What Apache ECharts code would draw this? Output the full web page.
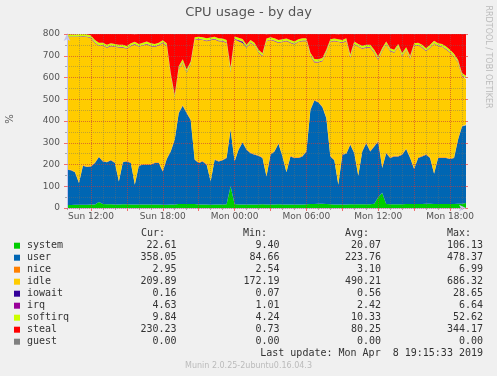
<!DOCTYPE html>
<html>
<head>
<meta charset="utf-8">
<title>CPU usage - by day</title>
<script src="https://cdn.jsdelivr.net/npm/echarts@6/dist/echarts.min.js"></script>
<style>
  html, body { margin: 0; padding: 0; background: #f0f0f0; }
  #cpuChart { width: 497px; height: 376px; }
</style>
</head>
<body>
<div id="cpuChart"></div>
<script>
// samples every 20 minutes, starting Sun 10:00 (hours counted from Sun 00:00)
var startHour = 10
var stepHours = 1 / 3
var sampleCount = 101

var tickHours = [12, 18, 24, 30, 36, 42]
var tickLabels = ['Sun 12:00', 'Sun 18:00', 'Mon 00:00', 'Mon 06:00', 'Mon 12:00', 'Mon 18:00']
var majorHours = [12, 15, 18, 21, 24, 27, 30, 33, 36, 39, 42]

var systemVals = [14,14,15,15,15,15,16,16,28,18, 17,17,16,16,17,17,16,16,16,16,
  16,16,16,16,15,15,16,16,18,18, 18,18,18,16,16,16,15,16,16,16,
  17,100,18,16,16,16,16,16,16,17, 16,16,16,17,16,16,16,16,16,16,
  17,18,18,19,19,18,17,16,16,16, 16,17,17,17,17,17,17,20,50,70,
  18,17,17,17,17,18,18,18,18,18, 20,19,18,18,18,18,18,18,19,20, 22.61]
var userVals = [162,159,149,100,179,173,175,191,206,196, 193,202,191,106,193,197,191,91,178,183,
  183,183,191,191,153,210,244,298,418,452, 418,387,204,191,198,183,107,206,198,203,
  213,260,196,252,285,252,236,229,224,213, 129,229,244,278,221,148,221,214,214,221,
  243,433,476,466,445,395,220,203,91,229, 233,274,235,131,243,281,243,263,256,114,
  234,213,220,220,228,253,212,161,212,219, 225,211,140,212,212,212,207,212,295,355, 358.05]
var niceVals = [3.0,3.1,2.9,3.0,3.2,3.0,2.9,3.1,3.3,3.0, 3.1,3.0,2.9,3.1,3.2,3.0,3.1,2.9,3.0,3.1,
  3.2,3.0,2.8,3.1,3.0,3.2,3.4,3.6,3.3,3.2, 3.1,3.0,2.9,3.0,3.1,3.0,2.8,3.0,3.1,3.0,
  2.9,4.2,3.0,3.1,3.0,2.9,3.0,3.2,3.1,3.0, 2.9,3.0,3.1,3.0,2.9,3.0,3.1,3.2,3.0,3.1,
  3.0,3.3,3.5,3.4,3.2,3.1,3.0,2.9,3.0,3.1, 3.0,3.2,3.1,3.0,3.2,3.1,3.0,3.2,3.6,3.4,
  3.1,3.2,3.0,3.1,3.2,3.0,3.1,3.2,3.0,3.1, 3.2,3.1,2.9,3.0,3.1,3.2,3.1,3.2,3.0,3.1, 2.95]
var idleVals = [607,610,619,668,589,595,587,549,507,530, 524,522,531,613,524,515,534,642,544,545,
  550,542,531,537,588,516,343,190,198,195, 183,252,547,565,555,565,647,550,550,544,
  526,259,558,496,455,466,504,499,471,465, 619,524,504,461,523,600,519,519,530,527,
  504,244,172,180,208,298,523,545,653,511, 515,397,497,590,469,436,474,428,371,534,
  497,488,474,501,450,452,453,562,514,497, 473,504,595,511,508,496,486,462,351,228, 209.89]
var iowaitVals = [0.4,0.5,0.3,0.4,0.6,0.5,0.4,0.5,0.6,0.4, 0.5,0.7,0.4,0.5,0.6,0.4,0.5,0.5,0.6,0.4,
  0.5,0.4,0.6,0.5,0.4,0.5,0.8,0.9,0.6,0.5, 0.7,0.6,0.4,0.5,0.4,0.6,0.5,0.4,0.5,0.4,
  0.6,0.9,0.5,2.4,4.8,0.7,0.5,0.4,0.6,0.5, 0.4,0.5,0.6,0.4,0.5,0.4,0.5,0.6,0.4,0.5,
  0.4,0.7,0.8,0.6,0.5,0.6,0.4,0.5,0.4,0.5, 0.4,0.6,0.5,0.4,0.6,0.5,0.6,0.4,0.9,0.7,
  0.5,0.4,0.6,0.5,0.7,0.5,0.6,0.4,0.5,0.4, 0.6,0.5,0.4,0.5,0.6,0.5,0.4,0.6,0.3,0.2, 0.16]
var irqVals = [2.3,2.4,2.2,2.3,2.5,2.4,2.3,2.4,2.8,2.4, 2.5,2.4,2.3,2.4,2.5,2.3,2.4,2.3,2.4,2.5,
  2.4,2.3,2.4,2.5,2.3,2.4,2.6,2.7,2.9,3.0, 2.8,2.6,2.4,2.3,2.4,2.3,2.2,2.3,2.4,2.3,
  2.4,3.6,2.3,2.4,2.5,2.4,2.3,2.4,2.3,2.4, 2.2,2.3,2.4,2.5,2.3,2.2,2.4,2.3,2.4,2.3,
  2.4,2.9,3.1,3.0,2.8,2.6,2.4,2.3,2.2,2.4, 2.3,2.5,2.4,2.3,2.4,2.5,2.4,2.5,3.0,2.8,
  2.4,2.3,2.4,2.3,2.4,2.5,2.4,2.3,2.4,2.4, 2.5,2.4,2.3,2.4,2.3,2.4,2.5,2.4,3.2,4.1, 4.63]
var softirqVals = [10.1,10.0,9.8,9.6,10.2,10.1,9.9,10.0,11.5,10.2, 10.0,10.3,10.1,9.7,10.2,10.4,10.1,9.5,10.2,10.1,
  10.0,10.2,10.3,10.0,9.8,10.3,10.9,9.8,11.2,11.8, 11.4,10.8,10.3,10.1,10.2,10.0,9.6,10.2,10.1,10.2,
  10.4,18.5,10.2,10.6,10.9,10.7,10.4,10.3,10.5,10.6, 9.8,10.3,10.4,10.8,10.2,9.9,10.3,10.2,10.3,10.2,
  10.4,11.8,12.2,12.0,11.5,10.8,10.2,10.1,9.7,10.3, 10.2,10.9,10.4,10.1,10.6,10.8,10.5,10.9,12.5,11.2,
  10.3,10.5,10.7,10.4,10.8,10.6,10.7,10.2,10.3,10.5, 10.6,10.4,10.1,10.3,10.4,10.6,10.8,11.1,10.6,10.2, 9.84]
var stealVals = [1,1,1,1,1,1,6,28,43,40, 50,43,46,49,50,55,43,35,46,40,
  35,43,46,40,28,43,181,280,150,119, 165,127,15,12,15,20,15,12,20,21,
  28,165,12,20,28,50,28,40,73,89, 20,15,20,28,24,20,28,35,24,20,
  20,89,118,119,112,73,24,20,24,28, 20,96,35,46,55,50,50,73,107,66,
  35,66,73,46,89,61,101,43,40,50, 66,50,31,43,46,58,73,92,119,181, 230.23]

// legend table
var legendNames = ['system', 'user', 'nice', 'idle', 'iowait', 'irq', 'softirq', 'steal', 'guest']
var legendColors = ['#00CC00', '#0066B3', '#FF8000', '#FFCC00', '#330099', '#990099', '#CCFF00', '#FF0000', '#808080']
var curVals = ['22.61', '358.05', '2.95', '209.89', '0.16', '4.63', '9.84', '230.23', '0.00']
var minVals = ['9.40', '84.66', '2.54', '172.19', '0.07', '1.01', '4.24', '0.73', '0.00']
var avgVals = ['20.07', '223.76', '3.10', '490.21', '0.56', '2.42', '10.33', '80.25', '0.00']
var maxVals = ['106.13', '478.37', '6.99', '686.32', '28.65', '6.64', '52.62', '344.17', '0.00']

var layerData = [systemVals, userVals, niceVals, idleVals, iowaitVals, irqVals, softirqVals, stealVals]

// category slots (one per sample) and the slot index of each hour
var slots = []
for (var i = 0; i < sampleCount; i++) slots.push(String(startHour + i * stepHours))
function slotOf(h) { return Math.round((h - startHour) / stepHours) }
var tickSlots = tickHours.map(slotOf)
var majorSlots = majorHours.map(slotOf)
var perHour = Math.round(1 / stepHours)

var myChart = echarts.init(document.getElementById('cpuChart'))

var mono = 'DejaVu Sans Mono'
var sans = 'DejaVu Sans'
var textCol = '#333'
var minorGrid = 'rgba(110,110,110,0.42)'
var majorGrid = 'rgba(255,30,30,0.38)'

var series = []
for (var k = 0; k < layerData.length; k++) {
  series.push({
    name: legendNames[k],
    type: 'line',
    stack: 'cpu',
    symbol: 'none',
    animation: false,
    z: 2,
    data: layerData[k],
    lineStyle: { width: 0 },
    itemStyle: { color: legendColors[k] },
    areaStyle: { color: legendColors[k], opacity: 1 }
  })
}

var graphics = [
  { type: 'text', x: 248.5, y: 13, style: { text: 'CPU usage - by day', font: '13px ' + sans, fill: '#555', align: 'center', verticalAlign: 'middle' } },
  { type: 'text', x: 10, y: 119, rotation: Math.PI / 2, style: { text: '%', font: '10px ' + sans, fill: '#555', align: 'center', verticalAlign: 'middle' } },
  { type: 'text', x: 488, y: 57, rotation: -Math.PI / 2, style: { text: 'RRDTOOL / TOBI OETIKER', font: '8px ' + sans, fill: '#bbb', align: 'center', verticalAlign: 'middle' } },
  { type: 'text', x: 141, y: 233.5, style: { text: 'Cur:', font: '10px ' + mono, fill: textCol, verticalAlign: 'middle' } },
  { type: 'text', x: 243, y: 233.5, style: { text: 'Min:', font: '10px ' + mono, fill: textCol, verticalAlign: 'middle' } },
  { type: 'text', x: 345, y: 233.5, style: { text: 'Avg:', font: '10px ' + mono, fill: textCol, verticalAlign: 'middle' } },
  { type: 'text', x: 447, y: 233.5, style: { text: 'Max:', font: '10px ' + mono, fill: textCol, verticalAlign: 'middle' } },
  { type: 'text', x: 483, y: 353.5, style: { text: 'Last update: Mon Apr  8 19:15:33 2019', font: '10px ' + mono, fill: textCol, align: 'right', verticalAlign: 'middle' } },
  { type: 'text', x: 248.5, y: 365.5, style: { text: 'Munin 2.0.25-2ubuntu0.16.04.3', font: '8px ' + sans, fill: '#bbb', align: 'center', verticalAlign: 'middle' } }
]
for (var r = 0; r < legendNames.length; r++) {
  var ry = 245.7 + r * 12
  graphics.push({ type: 'rect', shape: { x: 14, y: ry - 3, width: 6, height: 6 }, style: { fill: legendColors[r] } })
  graphics.push({ type: 'text', x: 27, y: ry, style: { text: legendNames[r], font: '10px ' + mono, fill: textCol, verticalAlign: 'middle' } })
  graphics.push({ type: 'text', x: 176.5, y: ry, style: { text: curVals[r], font: '10px ' + mono, fill: textCol, align: 'right', verticalAlign: 'middle' } })
  graphics.push({ type: 'text', x: 279.5, y: ry, style: { text: minVals[r], font: '10px ' + mono, fill: textCol, align: 'right', verticalAlign: 'middle' } })
  graphics.push({ type: 'text', x: 381, y: ry, style: { text: avgVals[r], font: '10px ' + mono, fill: textCol, align: 'right', verticalAlign: 'middle' } })
  graphics.push({ type: 'text', x: 483, y: ry, style: { text: maxVals[r], font: '10px ' + mono, fill: textCol, align: 'right', verticalAlign: 'middle' } })
}

function isHour(idx) { return idx % perHour === 0 }
function isMajor(idx) { return majorSlots.indexOf(idx) >= 0 }
function isLabel(idx) { return tickSlots.indexOf(idx) >= 0 }

var option = {
  backgroundColor: '#f0f0f0',
  animation: false,
  grid: { left: 67, top: 34, width: 399, height: 174 },
  xAxis: [
    {
      type: 'category', data: slots, boundaryGap: false, position: 'bottom', z: 10,
      axisLine: { show: true, lineStyle: { color: '#c4c4ec' }, symbol: ['none', 'arrow'], symbolSize: [5, 7] },
      axisTick: { show: true, interval: isHour, length: 2, lineStyle: { color: '#aaa' } },
      axisLabel: {
        interval: isLabel,
        formatter: function (v, idx) { return tickLabels[tickSlots.indexOf(idx)] },
        fontSize: 9, fontFamily: sans, color: '#555', margin: 4
      },
      splitLine: { show: true, interval: isHour, lineStyle: { color: minorGrid, type: [1, 1] } }
    },
    {
      type: 'category', data: slots, boundaryGap: false, position: 'bottom', z: 11,
      axisLine: { show: false },
      axisTick: { show: true, interval: isMajor, length: 3, lineStyle: { color: '#f07070' } },
      axisLabel: { show: false },
      splitLine: { show: true, interval: isMajor, lineStyle: { color: majorGrid, type: [1, 1] } }
    }
  ],
  yAxis: [
    {
      type: 'value', min: 0, max: 800, interval: 50, position: 'left', z: 10,
      axisLine: { show: true, lineStyle: { color: '#c4c4ec' }, symbol: ['none', 'arrow'], symbolSize: [5, 7] },
      axisTick: { show: true, length: 2, lineStyle: { color: '#aaa' } },
      axisLabel: { show: false },
      splitLine: { show: true, lineStyle: { color: minorGrid, type: [1, 1] } }
    },
    {
      type: 'value', min: 0, max: 800, interval: 100, position: 'left', z: 11,
      axisLine: { show: false },
      axisTick: { show: true, length: 3, lineStyle: { color: '#f07070' } },
      axisLabel: { fontSize: 9, fontFamily: sans, color: '#555', margin: 7 },
      splitLine: { show: true, lineStyle: { color: majorGrid, type: [1, 1] } }
    },
    {
      type: 'value', min: 0, max: 800, interval: 100, position: 'right', z: 11,
      axisLine: { show: false },
      axisTick: { show: true, length: 2, lineStyle: { color: '#f07070' } },
      axisLabel: { show: false },
      splitLine: { show: false }
    }
  ],
  series: series,
  graphic: graphics
}

myChart.setOption(option)
</script>
</body>
</html>
